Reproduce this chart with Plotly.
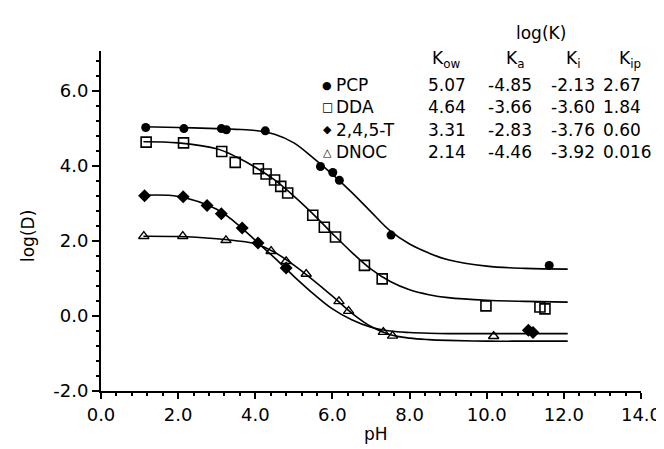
import plotly.graph_objects as go

# ---- data ----
pcp_ph = [1.16, 2.15, 3.12, 3.25, 4.26, 5.69, 6.01, 6.18, 7.52, 11.62]
pcp_logd = [5.03, 5.00, 5.00, 4.97, 4.94, 3.99, 3.83, 3.62, 2.16, 1.35]

dda_ph = [1.17, 2.14, 3.13, 3.48, 4.08, 4.28, 4.50, 4.66, 4.84, 5.49, 5.79, 6.08, 6.83, 7.29, 9.98, 11.38, 11.51]
dda_logd = [4.64, 4.62, 4.39, 4.10, 3.93, 3.79, 3.63, 3.46, 3.28, 2.69, 2.37, 2.11, 1.35, 0.99, 0.27, 0.24, 0.19]

t245_ph = [1.13, 2.13, 2.75, 3.12, 3.66, 4.07, 4.80, 11.08, 11.20]
t245_logd = [3.21, 3.18, 2.95, 2.73, 2.35, 1.95, 1.28, -0.38, -0.44]

dnoc_ph = [1.11, 2.12, 3.24, 4.41, 4.80, 5.32, 6.17, 6.42, 7.32, 7.56, 10.18]
dnoc_logd = [2.13, 2.13, 2.02, 1.73, 1.46, 1.12, 0.39, 0.13, -0.43, -0.53, -0.54]

# fitted curves
curve_ph = [1.1, 2, 3, 3.5, 4, 4.5, 5, 5.5, 6, 6.5, 7, 7.5, 8, 8.5, 9, 10, 11, 12.1]
pcp_fit = [5.05, 5.03, 5.00, 4.98, 4.95, 4.85, 4.62, 4.22, 3.78, 3.30, 2.78, 2.27, 1.92, 1.68, 1.50, 1.33, 1.27, 1.25]
dda_fit = [4.65, 4.62, 4.46, 4.25, 3.97, 3.63, 3.20, 2.72, 2.20, 1.70, 1.25, 0.92, 0.70, 0.57, 0.49, 0.42, 0.39, 0.37]
t245_fit = [3.22, 3.19, 2.85, 2.48, 2.02, 1.55, 1.06, 0.60, 0.19, -0.10, -0.30, -0.40, -0.44, -0.46, -0.47, -0.47, -0.47, -0.47]
dnoc_fit = [2.13, 2.12, 2.06, 2.01, 1.93, 1.70, 1.36, 0.96, 0.53, 0.08, -0.28, -0.50, -0.59, -0.63, -0.65, -0.67, -0.67, -0.67]

compounds = ["PCP", "DDA", "2,4,5-T", "DNOC"]
log_kow = ["5.07", "4.64", "3.31", "2.14"]
log_ka = ["-4.85", "-3.66", "-2.83", "-4.46"]
log_ki = ["-2.13", "-3.60", "-3.76", "-3.92"]
log_kip = ["2.67", "1.84", "0.60", "0.016"]
legend_symbols = ["\u25CF", "\u25A1", "\u25C6", "\u25B3"]

x_ticks = [0, 2, 4, 6, 8, 10, 12, 14]
y_ticks = [-2, 0, 2, 4, 6]

FONT = "DejaVu Sans, Verdana, sans-serif"
W, H = 664, 449
L, R, T, B = 93, 31, 43, 66

fig = go.Figure()

for fx, fy in [(curve_ph, pcp_fit), (curve_ph, dda_fit), (curve_ph, t245_fit), (curve_ph, dnoc_fit)]:
    fig.add_trace(go.Scatter(x=fx, y=fy, mode="lines", line=dict(color="black", width=1.6, shape="spline", smoothing=1.0),
                             showlegend=False, hoverinfo="skip"))

marker_styles = [
    (pcp_ph, pcp_logd, dict(symbol="circle", size=9, color="black")),
    (dda_ph, dda_logd, dict(symbol="square-open", size=10, color="black", line=dict(width=1.6, color="black"))),
    (t245_ph, t245_logd, dict(symbol="diamond", size=10, color="black")),
    (dnoc_ph, dnoc_logd, dict(symbol="triangle-up-open", size=9, color="black", line=dict(width=1.4, color="black"))),
]
for (mx, my, mk), name in zip(marker_styles, compounds):
    fig.add_trace(go.Scatter(x=mx, y=my, mode="markers", marker=mk, name=name, showlegend=False))


def px(xp):
    return (xp - L) / (W - L - R)


def py(yp):
    return (H - B - yp) / (H - B - T)


ann = []
tf = dict(family=FONT, size=17, color="black")
ann.append(dict(x=px(533), y=py(25), xref="paper", yref="paper", text="log(K)", showarrow=False, font=tf,
                xanchor="center", yanchor="middle"))
for label, cx in zip(["K<sub>ow</sub>", "K<sub>a</sub>", "K<sub>i</sub>", "K<sub>ip</sub>"], [438, 507, 565, 622]):
    ann.append(dict(x=px(cx), y=py(51), xref="paper", yref="paper", text=label, showarrow=False, font=tf,
                    xanchor="center", yanchor="middle"))
row_y = [77, 99, 122, 144]
col_x = [418, 478, 541, 593]
sym_sizes = [11, 12, 11, 11]
for i, name in enumerate(compounds):
    yy = py(row_y[i])
    ann.append(dict(x=px(319), y=yy, xref="paper", yref="paper", text=legend_symbols[i], showarrow=False,
                    font=dict(family="DejaVu Sans", size=sym_sizes[i], color="black"), xanchor="center", yanchor="middle"))
    ann.append(dict(x=px(326), y=yy, xref="paper", yref="paper", text=name, showarrow=False, font=tf,
                    xanchor="left", yanchor="middle"))
    for cx, vals in zip(col_x, [log_kow, log_ka, log_ki, log_kip]):
        ann.append(dict(x=px(cx), y=yy, xref="paper", yref="paper", text=vals[i], showarrow=False, font=tf,
                        xanchor="left", yanchor="middle"))

ann.append(dict(x=px(368), y=py(426), xref="paper", yref="paper", text="pH", showarrow=False, font=tf,
                xanchor="center", yanchor="middle"))
ann.append(dict(x=px(20), y=py(228), xref="paper", yref="paper", text="log(D)", showarrow=False, font=tf,
                xanchor="center", yanchor="middle", textangle=-90))

fig.update_layout(
    width=W, height=H,
    margin=dict(l=L, r=R, t=T, b=B),
    paper_bgcolor="white", plot_bgcolor="white",
    font=dict(family=FONT, size=18, color="black"),
    annotations=ann,
    showlegend=False,
)
fig.update_xaxes(range=[0, 14], tickmode="array", tickvals=x_ticks, ticktext=[f"{v:.1f}" for v in x_ticks],
                 showgrid=False, zeroline=False, showline=True, linecolor="black", linewidth=2,
                 ticks="outside", ticklen=6, tickwidth=2, tickcolor="black",
                 minor=dict(dtick=0.4, tick0=0, ticks="outside", ticklen=3, tickwidth=1.5, tickcolor="black", showgrid=False),
                 tickfont=dict(family=FONT, size=18, color="black"))
fig.update_yaxes(range=[-2, 7.07], tickmode="array", tickvals=y_ticks, ticktext=[f"{v:.1f}" for v in y_ticks],
                 showgrid=False, zeroline=False, showline=True, linecolor="black", linewidth=2,
                 ticks="outside", ticklen=7, tickwidth=2, tickcolor="black",
                 minor=dict(dtick=0.4, tick0=0, ticks="outside", ticklen=3, tickwidth=1.5, tickcolor="black", showgrid=False),
                 tickfont=dict(family=FONT, size=18, color="black"))

fig.write_html("out.html")
